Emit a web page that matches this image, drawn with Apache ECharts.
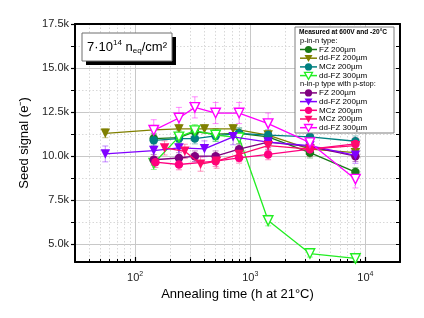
<!DOCTYPE html>
<html><head><meta charset="utf-8">
<script src="https://cdn.jsdelivr.net/npm/echarts@6/dist/echarts.min.js"></script>
<style>html,body{margin:0;padding:0;background:#fff}#c{width:424px;height:318px}</style>
</head><body><div id="c"></div>
<script>
// ---- data (time in h, signal in e) ----
const pFZ200_t = [145,240,330,500,800,1430,3300,8200];
const pFZ200_v = [11000,11050,11400,11250,11300,11100,10200,9100];
const pFZ200_e = [300,300,300,300,300,300,300,250];

const pddFZ200_t = [55,145,240,400,710,1430,3300,8200];
const pddFZ200_v = [11300,11500,11550,11550,11550,11200,10400,10200];
const pddFZ200_e = [250,250,250,250,250,250,250,250];

const pMCz200_t = [145,240,330,500,800,1430,3300,8200];
const pMCz200_v = [10900,11000,11000,11150,11300,11200,11100,10850];
const pMCz200_e = [300,300,300,300,300,300,300,300];

const pddFZ300_t = [145,240,330,500,800,1430,3300,8200];
const pddFZ300_v = [9600,11100,11450,11200,11050,6350,4480,4200];
const pddFZ300_e = [350,350,350,350,350,300,200,200];

const nFZ200_t = [145,240,330,500,800,1430,3300,8200];
const nFZ200_v = [9800,9900,10000,10000,10400,10800,10550,10000];
const nFZ200_e = [300,300,300,300,300,300,300,300];

const nddFZ200_t = [55,145,240,400,710,1430,3300,8200];
const nddFZ200_v = [10130,10320,10470,10420,11100,10800,10600,10050];
const nddFZ200_e = [450,450,450,450,450,450,450,450];

const nMCz200a_t = [150,240,500,800,1430,3300,8200];
const nMCz200a_v = [9660,9530,9720,9910,10100,10400,10700];
const nMCz200a_e = [300,300,300,300,300,300,350];

const nMCz200b_t = [180,270,370,510,800,1430,3300,8200];
const nMCz200b_v = [10470,10280,9550,9720,10100,10600,10400,10600];
const nMCz200b_e = [400,400,400,400,400,400,400,400];

const nddFZ300_t = [145,240,330,500,800,1430,3300,8200];
const nddFZ300_v = [11470,12170,12770,12450,12450,11850,10770,8700];
const nddFZ300_e = [600,600,600,600,600,600,500,500];

const yTicks = [5000,7500,10000,12500,15000,17500];
const yMinor = [6250,8750,11250,13750,16250];
const xTicks = [100,1000,10000];
const xMinor = [40,50,60,70,80,90,200,300,400,500,600,700,800,900,2000,3000,4000,5000,6000,7000,8000,9000];

const legendTitle = 'Measured at 600V and -20°C';
const groupP = 'p-in-n type:';
const groupN = 'n-in-p type with p-stop:';

const defs = [
  {name:'FZ 200µm', t:pFZ200_t, v:pFZ200_v, e:pFZ200_e, color:'#177a17', sym:'circle', hollow:false},
  {name:'dd-FZ 200µm', t:pddFZ200_t, v:pddFZ200_v, e:pddFZ200_e, color:'#808000', sym:'tri', hollow:false},
  {name:'MCz 200µm', t:pMCz200_t, v:pMCz200_v, e:pMCz200_e, color:'#008080', sym:'circle', hollow:false},
  {name:'dd-FZ 300µm', t:pddFZ300_t, v:pddFZ300_v, e:pddFZ300_e, color:'#22ee22', sym:'tri', hollow:true},
  {name:'FZ 200µm', t:nFZ200_t, v:nFZ200_v, e:nFZ200_e, color:'#800080', sym:'circle', hollow:false},
  {name:'dd-FZ 200µm', t:nddFZ200_t, v:nddFZ200_v, e:nddFZ200_e, color:'#8000ff', sym:'tri', hollow:false},
  {name:'MCz 200µm', t:nMCz200a_t, v:nMCz200a_v, e:nMCz200a_e, color:'#ff0080', sym:'circle', hollow:false},
  {name:'MCz 200µm', t:nMCz200b_t, v:nMCz200b_v, e:nMCz200b_e, color:'#ff0a6c', sym:'tri', hollow:false},
  {name:'dd-FZ 300µm', t:nddFZ300_t, v:nddFZ300_v, e:nddFZ300_e, color:'#ff00ff', sym:'tri', hollow:true}
];

const FONT = 'Liberation Sans, Arial, sans-serif';
const chart = echarts.init(document.getElementById('c'), null, {renderer:'canvas'});

const series = [];
defs.forEach((d, i) => {
  const pts = d.t.map((t, k) => [t, d.v[k], d.e[k]]);
  series.push({
    type:'custom', xAxisIndex:0, yAxisIndex:0, data:pts, z:2, silent:true,
    renderItem:(params, api) => {
      const x = api.value(0), y = api.value(1), e = api.value(2);
      const top = api.coord([x, y + e]), bot = api.coord([x, y - e]);
      const st = {stroke:d.color, lineWidth:1, opacity:0.45};
      return {type:'group', children:[
        {type:'line', shape:{x1:top[0],y1:top[1],x2:bot[0],y2:bot[1]}, style:st},
        {type:'line', shape:{x1:top[0]-3,y1:top[1],x2:top[0]+3,y2:top[1]}, style:st},
        {type:'line', shape:{x1:bot[0]-3,y1:bot[1],x2:bot[0]+3,y2:bot[1]}, style:st}
      ]};
    }
  });
  series.push({
    type:'line', name:d.name, xAxisIndex:0, yAxisIndex:0, z:3 + i,
    data:pts.map(p => [p[0], p[1]]),
    symbol: d.sym === 'circle' ? 'circle' : 'triangle',
    symbolRotate: d.sym === 'circle' ? 0 : 180,
    symbolSize: d.sym === 'circle' ? 8.5 : 9.5,
    lineStyle:{color:d.color, width:1.3},
    itemStyle: d.hollow ? {color:'#ffffff', borderColor:d.color, borderWidth:1.4}
                        : {color:d.color, borderColor:d.color, borderWidth:0},
    animation:false
  });
});

// Legend drawn as graphics
const LX = 295, LY = 27, LW = 99, LH = 106;
const legendEls = [
  {type:'rect', shape:{x:LX, y:LY, width:LW, height:LH}, style:{fill:'#fff', stroke:'#7f7f7f', lineWidth:1}, z:100},
  {type:'text', x:LX+4, y:LY+5.5, style:{text:legendTitle, font:'bold 6.6px '+FONT, fill:'#000', verticalAlign:'middle'}, z:101},
  {type:'text', x:LX+5, y:LY+14, style:{text:groupP, font:'7.5px '+FONT, fill:'#000', verticalAlign:'middle'}, z:101},
  {type:'text', x:LX+5, y:LY+57, style:{text:groupN, font:'7.5px '+FONT, fill:'#000', verticalAlign:'middle'}, z:101}
];
const rowsY = [49.5, 58.2, 66.9, 75.6, 92.9, 101.6, 110.3, 119.0, 127.7];
defs.forEach((d, i) => {
  const cy = rowsY[i];
  legendEls.push({type:'line', shape:{x1:300, y1:cy, x2:317, y2:cy}, style:{stroke:d.color, lineWidth:1.5}, z:101});
  const fill = d.hollow ? '#fff' : d.color;
  if (d.sym === 'circle') {
    legendEls.push({type:'circle', shape:{cx:308.5, cy:cy, r:3.6}, style:{fill:fill, stroke:d.color, lineWidth:d.hollow?1.3:0}, z:102});
  } else {
    legendEls.push({type:'polygon', shape:{points:[[304.5,cy-3.2],[312.5,cy-3.2],[308.5,cy+3.8]]}, style:{fill:fill, stroke:d.color, lineWidth:d.hollow?1.3:0}, z:102});
  }
  legendEls.push({type:'text', x:319, y:cy, style:{text:d.name, font:'8px '+FONT, fill:'#000', verticalAlign:'middle'}, z:101});
});

// fluence box
const boxEls = [
  {type:'rect', shape:{x:86, y:37, width:90, height:28}, style:{fill:'#000'}, z:100},
  {type:'rect', shape:{x:82, y:33, width:90, height:28}, style:{fill:'#fff', stroke:'#6f6f6f', lineWidth:1}, z:101},
  {type:'text', x:127, y:47, z:102, style:{
    text:'{m|7·10}{sup|14}{m| n}{sub|eq}{m|/cm²}', align:'center', verticalAlign:'middle',
    rich:{m:{font:'13px '+FONT, fill:'#000'}, sup:{font:'8px '+FONT, fill:'#000', verticalAlign:'top', padding:[0,0,8,0]}, sub:{font:'8px '+FONT, fill:'#000', padding:[8,0,0,0]}}
  }}
];

const gridLine = {lineStyle:{color:'#c8c8c8', width:1}};
const minorLine = {lineStyle:{color:'#d8d8d8', width:1, type:[1.5,2]}};

const option = {
  animation:false,
  backgroundColor:'#fff',
  grid:{left:75, right:24, top:24, bottom:56, containLabel:false},
  xAxis:[
    {type:'log', logBase:10, min:30, max:20000, position:'bottom',
     axisLine:{show:true, onZero:false, lineStyle:{color:'#000', width:2}},
     axisTick:{show:true, inside:true, length:5, customValues:xTicks, lineStyle:{color:'#000', width:1.2}},
     axisLabel:{customValues:xTicks, margin:9, formatter:v => '{b|10}{s|' + Math.round(Math.log10(v)) + '}',
       rich:{b:{fontFamily:FONT, fontSize:11, color:'#222'}, s:{fontFamily:FONT, fontSize:7, color:'#222', verticalAlign:'top', padding:[0,0,6,0]}}},
     splitLine:{show:true, ...gridLine},
     name:'Annealing time (h at 21°C)', nameLocation:'middle', nameGap:24,
     nameTextStyle:{fontFamily:FONT, fontSize:13, color:'#000', verticalAlign:'top'}},
    {type:'log', logBase:10, min:30, max:20000, position:'bottom',
     axisLine:{show:false}, axisLabel:{show:false},
     axisTick:{show:true, inside:true, length:3, customValues:xMinor, lineStyle:{color:'#000', width:1}},
     splitLine:{show:true, ...minorLine}},
    {type:'log', logBase:10, min:30, max:20000, position:'top',
     axisLine:{show:true, onZero:false, lineStyle:{color:'#000', width:2}},
     axisTick:{show:false}, axisLabel:{show:false}, splitLine:{show:false}}
  ],
  yAxis:[
    {type:'value', min:4000, max:17500, position:'left',
     axisLine:{show:true, onZero:false, lineStyle:{color:'#000', width:2}},
     axisTick:{show:true, inside:false, length:4, customValues:yTicks, lineStyle:{color:'#000', width:1.2}},
     axisLabel:{customValues:yTicks, margin:6, fontFamily:FONT, fontSize:11, color:'#222', formatter:v => (v/1000).toFixed(1) + 'k'},
     splitLine:{show:true, ...gridLine},
     name:'Seed signal (e⁻)', nameLocation:'middle', nameGap:39,
     nameTextStyle:{fontFamily:FONT, fontSize:13, color:'#000'}},
    {type:'value', min:4000, max:17500, position:'left',
     axisLine:{show:false}, axisLabel:{show:false},
     axisTick:{show:true, inside:false, length:4, customValues:yMinor, lineStyle:{color:'#000', width:1}},
     splitLine:{show:true, ...minorLine}},
    {type:'value', min:4000, max:17500, position:'right',
     axisLine:{show:true, onZero:false, lineStyle:{color:'#000', width:2}},
     axisTick:{show:true, inside:true, length:4, customValues:yTicks.concat(yMinor), lineStyle:{color:'#000', width:1}},
     axisLabel:{show:false}, splitLine:{show:false}}
  ],
  graphic:legendEls.concat(boxEls),
  series:series
};
chart.setOption(option);
</script></body></html>
